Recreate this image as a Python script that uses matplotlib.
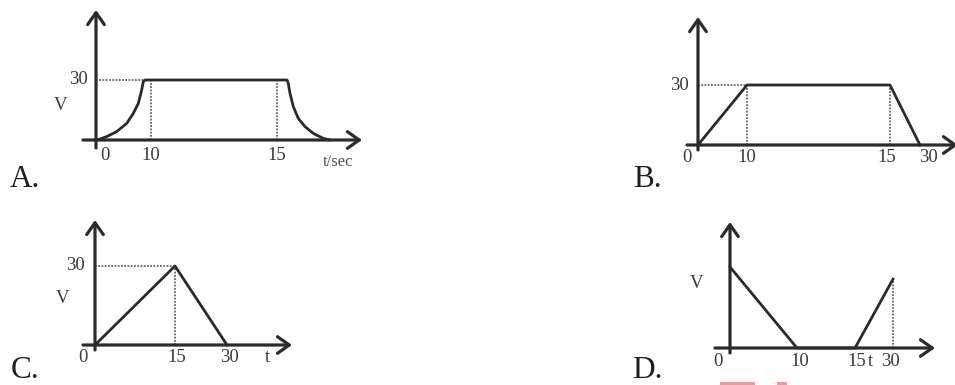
import numpy as np
import matplotlib
matplotlib.use("Agg")
import matplotlib.pyplot as plt
from matplotlib.patches import Rectangle

W, H = 955, 385
plt.rcParams['font.family'] = ['Liberation Serif', 'DejaVu Serif']

INK = '#2b2b2b'
DOT = '#666666'

# ---- Graph A: smooth rise, constant speed, smooth stop ----
a_t = [0, 1, 10.7, 20.7, 30.7, 37.3, 42.3, 45.7, 47.3, 49,
       191, 192.3, 194, 197.3, 202.3, 209, 217.3, 227.3, 234]
a_v = [0, 0, 1.7, 4.2, 8.3, 13.3, 18.3, 25, 29.2, 30,
       30, 28.3, 23.3, 16.7, 10.8, 6.7, 3.3, 0.8, 0]
a_guides = [55, 181]
a_tick_pos = [9, 55, 181]
a_tick_lab = ['0', '10', '15']

# ---- Graph B: linear rise, constant, linear fall ----
b_t = [0, 49, 192, 222]
b_v = [0, 30, 30, 0]
b_guides = [49, 192]
b_tick_pos = [-11, 49, 189, 230]
b_tick_lab = ['0', '10', '15', '30']

# ---- Graph C: triangle ----
c_t = [0, 80, 132]
c_v = [0, 30, 0]
c_guides = [80]
c_tick_pos = [-12, 82, 134, 172]
c_tick_lab = ['0', '15', '30', 't']

# ---- Graph D: falling then rising ----
d_t = [0, 67, 125, 163]
d_v = [30, 0, 0, 25.5]
d_guides = [163]
d_tick_pos = [-12, 70, 127, 140, 160]
d_tick_lab = ['0', '10', '15', 't', '30']

v_top = 30

fig = plt.figure(figsize=(W / 100, H / 100), dpi=100)


def panel(L, T, R, B, ox, oy, s):
    ax = fig.add_axes([L / W, 1 - B / H, (R - L) / W, (B - T) / H])
    ax.set_xlim(L - ox, R - ox)
    ax.set_ylim((oy - B) / s, (oy - T) / s)
    ax.axis('off')
    return ax


def axes_arrows(ax, ox, oy, s, x0, x1, y0, y1):
    props = dict(arrowstyle='->,head_length=0.85,head_width=0.6', lw=2.3,
                 color=INK, shrinkA=0, shrinkB=0, mutation_scale=10)
    ax.annotate('', xy=(x1 - ox, 0), xytext=(x0 - ox, 0),
                arrowprops=props, annotation_clip=False)
    ax.annotate('', xy=(0, (oy - y1) / s), xytext=(0, (oy - y0) / s),
                arrowprops=props, annotation_clip=False)


def ticks(ax, pos, labels, oy, s, py, size=13.5):
    for p, lab in zip(pos, labels):
        ax.text(p, (oy - py) / s, lab, ha='center', va='center',
                fontsize=size, color='#3a3a3a', clip_on=False)


def guides(ax, xs, vs, level):
    for x in xs:
        v = np.interp(x, *vs)
        ax.plot([x, x], [0, v], color=DOT, lw=1.3, ls=(0, (1, 0.8)))
    if level is not None:
        ax.plot([0, level[0]], [level[1], level[1]], color=DOT, lw=1.3,
                ls=(0, (1, 0.8)))


# Panel A
ax = panel(40, 0, 380, 190, 96, 140, 2.0)
axes_arrows(ax, 96, 140, 2.0, 83, 362, 148, 10)
guides(ax, a_guides, (a_t, a_v), (a_t[9], v_top))
ax.plot(a_t, a_v, color=INK, lw=2.0, solid_joinstyle='round',
        solid_capstyle='round')
ticks(ax, a_tick_pos, a_tick_lab, 140, 2.0, 156)
ax.text(242, (140 - 162) / 2.0, 't/sec', ha='center', va='center',
        fontsize=12, color='#555555', clip_on=False)
ax.text(-18, v_top, '30', ha='center', va='center', fontsize=13.5, color='#3a3a3a')
ax.text(-35, 17.5, 'V', ha='center', va='center', fontsize=13.5, color='#3a3a3a')

# Panel B
ax = panel(600, 0, 955, 195, 698, 145, 2.0)
axes_arrows(ax, 698, 145, 2.0, 687, 958, 150, 17)
guides(ax, b_guides, (b_t, b_v), (b_t[1], v_top))
ax.plot(b_t, b_v, color=INK, lw=2.0)
ticks(ax, b_tick_pos, b_tick_lab, 145, 2.0, 158)
ax.text(-19, v_top, '30', ha='center', va='center', fontsize=13.5, color='#3a3a3a')

# Panel C
sc = 79 / 30
ax = panel(40, 195, 380, 385, 95, 345, sc)
axes_arrows(ax, 95, 345, sc, 83, 292, 350, 220)
guides(ax, c_guides, (c_t, c_v), (c_t[1], v_top))
ax.plot(c_t, c_v, color=INK, lw=2.0)
ticks(ax, c_tick_pos, c_tick_lab, 345, sc, 358)
ax.text(-20, v_top, '30', ha='center', va='center', fontsize=13.5, color='#3a3a3a')
ax.text(-32, 17.8, 'V', ha='center', va='center', fontsize=13.5, color='#3a3a3a')

# Panel D
sd = 2.7
ax = panel(600, 195, 955, 385, 730, 348, sd)
axes_arrows(ax, 730, 348, sd, 715, 935, 353, 222)
guides(ax, d_guides, (d_t, d_v), None)
ax.plot(d_t, d_v, color=INK, lw=2.0)
ticks(ax, d_tick_pos, d_tick_lab, 348, sd, 361)
ax.text(-33, 24, 'V', ha='center', va='center', fontsize=13.5, color='#3a3a3a')

# Option letters
for lab, (px, py) in zip(['A.', 'B.', 'C.', 'D.'],
                         [(25, 180), (647, 180), (25, 370), (647, 370)]):
    fig.text(px / W, 1 - py / H, lab, ha='center', va='center',
             fontsize=22.5, color='#1e1e1e')

# faint red marks along the bottom edge
for x0, x1 in [(720, 755), (777, 787)]:
    fig.patches.append(Rectangle((x0 / W, 0), (x1 - x0) / W, 3 / H,
                                 transform=fig.transFigure,
                                 color='#ec9a9a', lw=0))

fig.savefig('out.png', dpi=100, facecolor='white')
